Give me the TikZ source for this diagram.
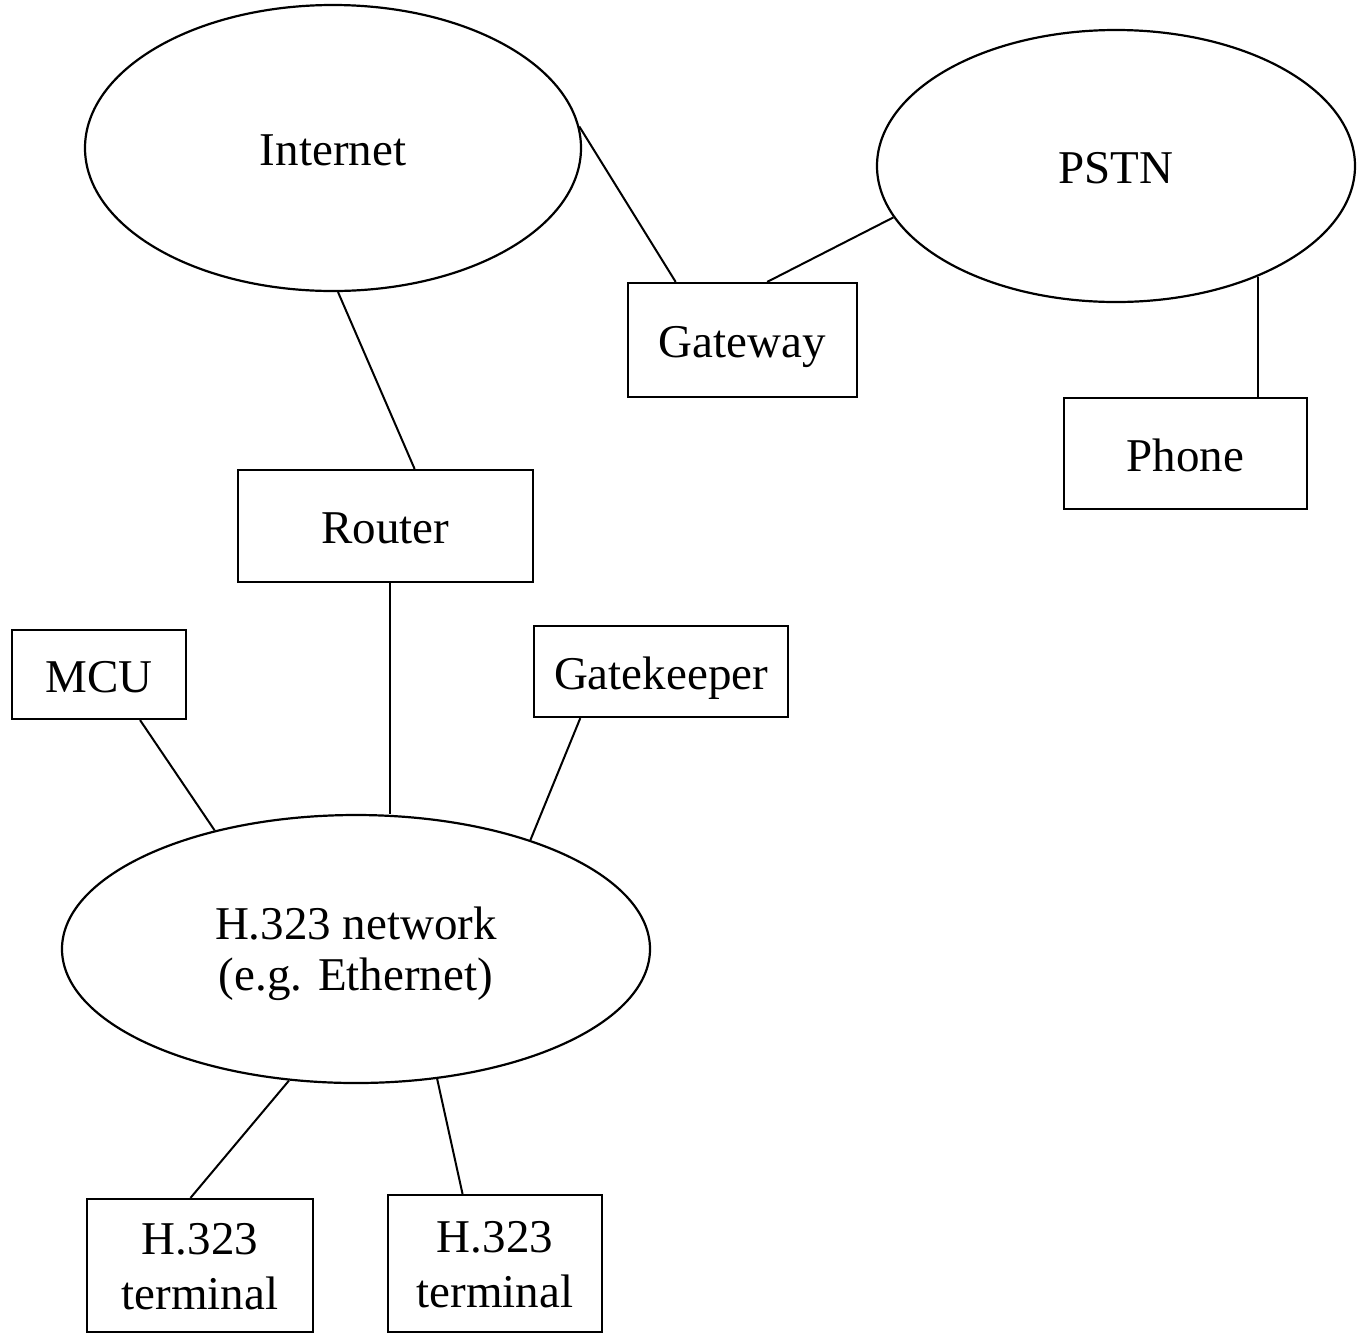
\documentclass[tikz,border=0pt]{standalone}
\usepackage{fontspec}
\setmainfont{Liberation Serif}
\usetikzlibrary{shapes.geometric}
% two centred lines, lowered by #1 without changing the box size
\newcommand{\twolines}[4]{%
  \raisebox{-#1}[\height][\depth]{\renewcommand{\arraystretch}{#2}%
    \begin{tabular}{@{}c@{}}#3\\#4\end{tabular}}}
\begin{document}
% one coordinate unit = 0.5pt; node sizes are given in pt
\begin{tikzpicture}[x=0.5pt,y=-0.5pt,
  every node/.style={font=\fontsize{23.5}{26}\selectfont, inner sep=0pt},
  oneline/.style={text height=17.6pt, text depth=0pt},
  cloud/.style={ellipse, draw, line width=1.1pt},
  unit/.style={rectangle, draw, line width=1.1pt},
  link/.style={line width=1pt}]
  \useasboundingbox (0,0) rectangle (1364,1334);

  % networks
  \node[cloud, oneline, minimum width=248pt, minimum height=143pt] (internet) at (333,148) {Internet};
  \node[cloud, oneline, minimum width=239pt, minimum height=136pt] (pstn) at (1116,166) {PSTN};
  \node[cloud, minimum width=294pt, minimum height=134pt] (net) at (356,949)
    {\twolines{3pt}{0.98}{H.323 network}{(e.g. Ethernet)}};

  % devices
  \node[unit, oneline, minimum width=114.5pt, minimum height=57pt] (gateway) at (742.5,340) {Gateway};
  \node[unit, oneline, minimum width=121.5pt, minimum height=55.5pt] (phone) at (1185.5,453.5) {Phone};
  \node[unit, oneline, minimum width=147.5pt, minimum height=56pt] (router) at (385.5,526) {Router};
  \node[unit, oneline, minimum width=87pt, minimum height=44.5pt] (mcu) at (99,674.5) {MCU};
  \node[unit, oneline, minimum width=127pt, minimum height=45.5pt] (gatekeeper) at (661,671.5) {Gatekeeper};
  \node[unit, minimum width=113pt, minimum height=66.5pt] (term1) at (200,1265.5)
    {\twolines{2.75pt}{1.06}{H.323}{terminal}};
  \node[unit, minimum width=107pt, minimum height=68.5pt] (term2) at (495,1263.5)
    {\twolines{2.75pt}{1.06}{H.323}{terminal}};

  % links
  \draw[link] (internet.5) -- (gateway.139.4);
  \draw[link] (gateway.67.6) -- (pstn.193);
  \draw[link] (pstn.-38.6) -- (pstn.-38.6 |- phone.north);
  \draw[link] (internet.272.8) -- (router.63.8);
  \draw[link] ([xshift=2.2pt]router.south) -- ([xshift=2.2pt]router.south |- net.north);
  \draw[link] (mcu.-48.8) -- (net.140.8);
  \draw[link] (gatekeeper.210) -- (net.32.5);
  \draw[link] (net.243.8) -- (term1.98.6);
  \draw[link] (net.-58.5) -- (term2.115.7);
\end{tikzpicture}
\end{document}
